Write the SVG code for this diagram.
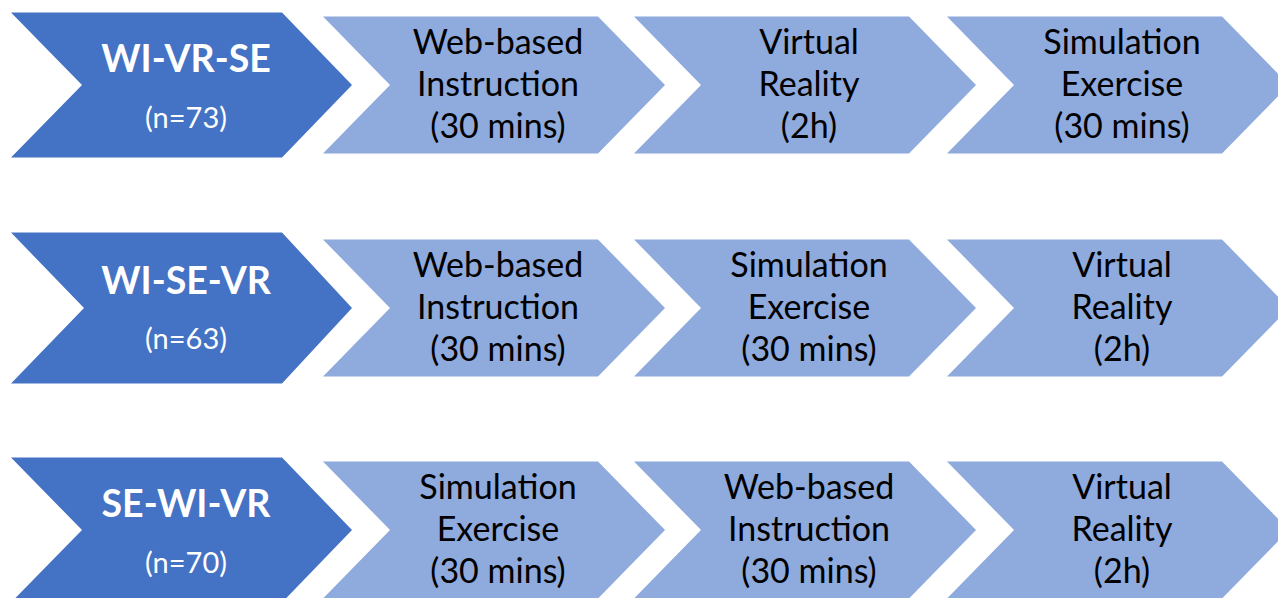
<svg xmlns="http://www.w3.org/2000/svg" width="1278" height="598" viewBox="0 0 1278 598">
<style>
.dark{fill:#4472C4}
.light{fill:#8FAADC}
.t{font-family:Lato,"Open Sans","Liberation Sans",sans-serif;text-anchor:middle}
.h{font-size:37.5px;font-weight:bold;fill:#fff}
.n{font-size:29px;fill:#fff}
.s{font-size:34px;fill:#000}
</style>
<defs>
<polygon id="dk" points="0,-72.5 271,-72.5 341,0 271,72.5 0,72.5 71,0"/>
<polygon id="dk2" points="0,-75.5 271,-75.5 341,0 271,75.5 0,75.5 73,0"/>
<polygon id="lt" points="0,-68.5 275,-68.5 342,0 275,68.5 0,68.5 67,0"/>
</defs>
<rect width="1278" height="598" fill="#fff"/>
<g id="row1">
<g id="g1"><use href="#dk" class="dark" x="11" y="85"/><text class="t h" x="186" y="72">WI-VR-SE</text><text class="t n" x="186" y="128">(n=73)</text></g>
<g id="r1s1"><use href="#lt" class="light" x="323" y="85"/><text class="t s" x="498"><tspan x="498" y="54">Web-based</tspan><tspan x="498" y="96">Instruction</tspan><tspan x="498" y="138">(30 mins)</tspan></text></g>
<g id="r1s2"><use href="#lt" class="light" x="634" y="85"/><text class="t s" x="809"><tspan x="809" y="54">Virtual</tspan><tspan x="809" y="96">Reality</tspan><tspan x="809" y="138">(2h)</tspan></text></g>
<g id="r1s3"><use href="#lt" class="light" x="947" y="85"/><text class="t s" x="1122"><tspan x="1122" y="54">Simulation</tspan><tspan x="1122" y="96">Exercise</tspan><tspan x="1122" y="138">(30 mins)</tspan></text></g>
</g>
<g id="row2" transform="translate(0,223)">
<g id="g2"><use href="#dk2" class="dark" x="11" y="85"/><text class="t h" x="186" y="71">WI-SE-VR</text><text class="t n" x="186" y="126">(n=63)</text></g>
<g id="r2s1"><use href="#lt" class="light" x="323" y="85"/><text class="t s" x="498"><tspan x="498" y="54">Web-based</tspan><tspan x="498" y="96">Instruction</tspan><tspan x="498" y="138">(30 mins)</tspan></text></g>
<g id="r2s2"><use href="#lt" class="light" x="634" y="85"/><text class="t s" x="809"><tspan x="809" y="54">Simulation</tspan><tspan x="809" y="96">Exercise</tspan><tspan x="809" y="138">(30 mins)</tspan></text></g>
<g id="r2s3"><use href="#lt" class="light" x="947" y="85"/><text class="t s" x="1122"><tspan x="1122" y="54">Virtual</tspan><tspan x="1122" y="96">Reality</tspan><tspan x="1122" y="138">(2h)</tspan></text></g>
</g>
<g id="row3" transform="translate(0,445)">
<g id="g3"><use href="#dk" class="dark" x="11" y="85"/><text class="t h" x="186" y="72">SE-WI-VR</text><text class="t n" x="186" y="128">(n=70)</text></g>
<g id="r3s1"><use href="#lt" class="light" x="323" y="85"/><text class="t s" x="498"><tspan x="498" y="54">Simulation</tspan><tspan x="498" y="96">Exercise</tspan><tspan x="498" y="138">(30 mins)</tspan></text></g>
<g id="r3s2"><use href="#lt" class="light" x="634" y="85"/><text class="t s" x="809"><tspan x="809" y="54">Web-based</tspan><tspan x="809" y="96">Instruction</tspan><tspan x="809" y="138">(30 mins)</tspan></text></g>
<g id="r3s3"><use href="#lt" class="light" x="947" y="85"/><text class="t s" x="1122"><tspan x="1122" y="54">Virtual</tspan><tspan x="1122" y="96">Reality</tspan><tspan x="1122" y="138">(2h)</tspan></text></g>
</g>
</svg>
